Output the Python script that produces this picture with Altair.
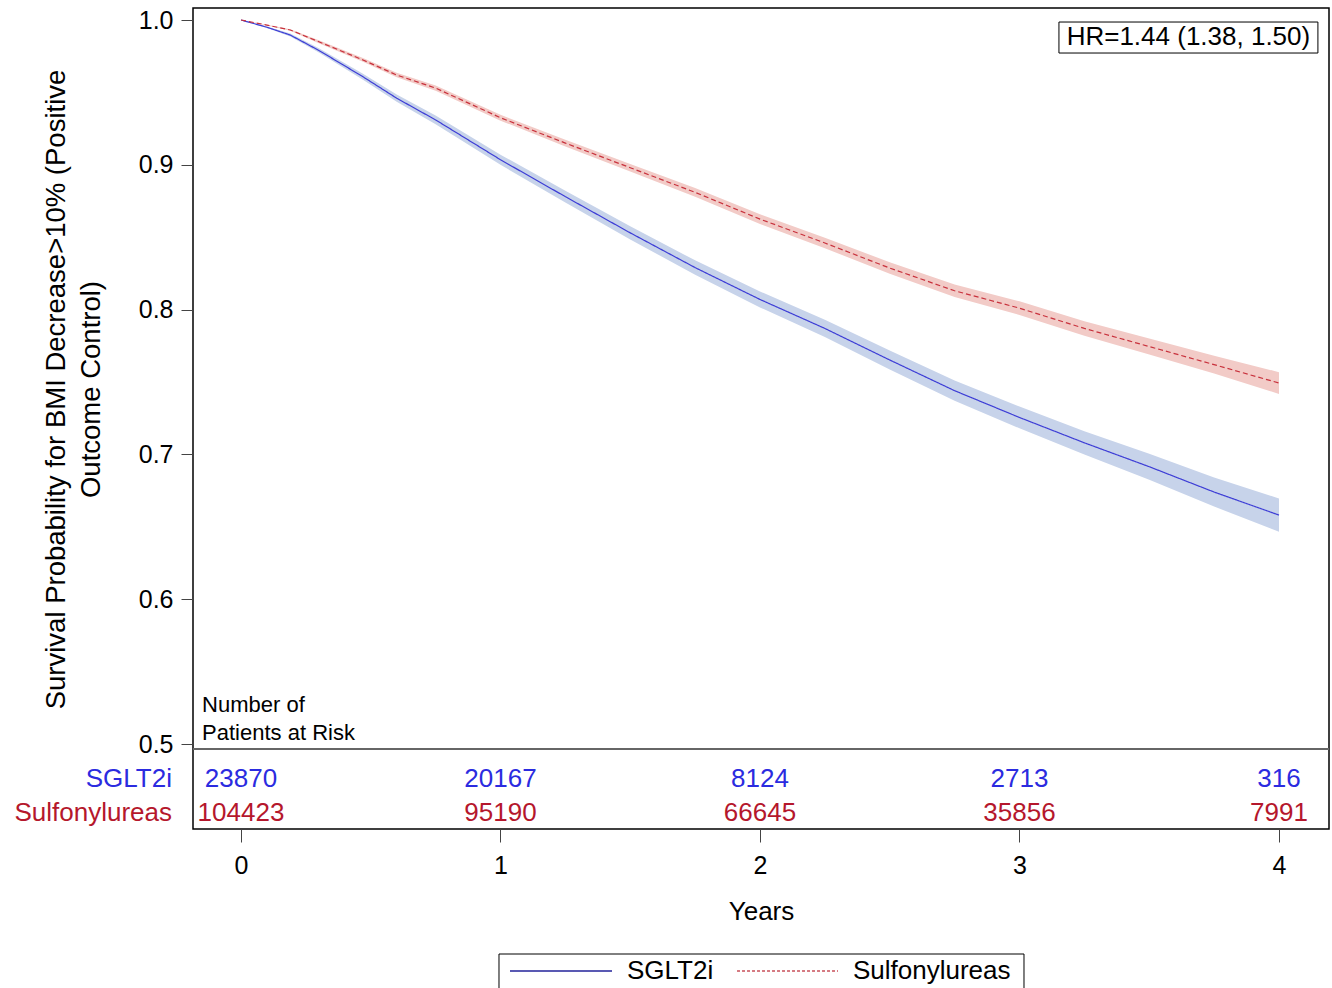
import altair as alt
import pandas as pd

# ---- data ----
times = [0, 0.1, 0.19, 0.3, 0.47, 0.6, 0.75, 1.0, 1.25, 1.5, 1.75, 2.0,
         2.25, 2.5, 2.75, 3.0, 3.25, 3.5, 3.75, 4.0]
sglt2_surv = [1.0, 0.995, 0.9896, 0.979, 0.9608, 0.946, 0.931, 0.9035, 0.878,
              0.853, 0.829, 0.807, 0.787, 0.7652, 0.744, 0.7255, 0.708,
              0.6915, 0.674, 0.6581]
sglt2_hw = [0, 0.0005, 0.001, 0.0015, 0.002, 0.0025, 0.003, 0.0035, 0.004,
            0.0045, 0.005, 0.0055, 0.006, 0.0065, 0.007, 0.0075, 0.008,
            0.009, 0.010, 0.0115]
su_surv = [1.0, 0.9965, 0.9931, 0.985, 0.9724, 0.962, 0.953, 0.9325, 0.915,
           0.898, 0.881, 0.8625, 0.846, 0.8287, 0.813, 0.801, 0.787, 0.7745,
           0.762, 0.7493]
su_hw = [0, 0.0003, 0.0006, 0.001, 0.0013, 0.0015, 0.0018, 0.002, 0.0023,
         0.0026, 0.003, 0.0033, 0.0036, 0.004, 0.0043, 0.0047, 0.005,
         0.0055, 0.0062, 0.0075]

groups = ["SGLT2i", "Sulfonylureas"]
risk_times = [0, 1, 2, 3, 4]
risk_sglt2 = [23870, 20167, 8124, 2713, 316]
risk_su = [104423, 95190, 66645, 35856, 7991]
y_ticks = [0.5, 0.6, 0.7, 0.8, 0.9, 1.0]
x_ticks = [0, 1, 2, 3, 4]
hr_text = "HR=1.44 (1.38, 1.50)"

BLUE_LINE = "#3d3dd6"
BLUE_BAND = "#c7d3ea"
RED_LINE = "#c8313c"
RED_BAND = "#f2cbc7"
BLUE_TXT = "#2b2be0"
RED_TXT = "#b5172c"
LEG_BLUE = "#22229a"
LEG_RED = "#c8505a"
FONT = "Liberation Sans"

rows = []
for t, s, h in zip(times, sglt2_surv, sglt2_hw):
    rows.append({"t": t, "s": s, "lo": s - h, "hi": s + h, "group": groups[0]})
for t, s, h in zip(times, su_surv, su_hw):
    rows.append({"t": t, "s": s, "lo": s - h, "hi": s + h, "group": groups[1]})
df = pd.DataFrame(rows)

X_DOM = [-0.18497, 4.1927]
Y_DOM = [0.4413, 1.00829]
xs = alt.Scale(domain=X_DOM, nice=False, zero=False)
ys = alt.Scale(domain=Y_DOM, nice=False, zero=False)

base = alt.Chart(df)

band_b = base.transform_filter(alt.datum.group == groups[0]).mark_area(
    color=BLUE_BAND, opacity=1).encode(
    x=alt.X("t:Q", scale=xs), y=alt.Y("lo:Q", scale=ys), y2="hi:Q")
band_r = base.transform_filter(alt.datum.group == groups[1]).mark_area(
    color=RED_BAND, opacity=1).encode(
    x=alt.X("t:Q", scale=xs), y=alt.Y("lo:Q", scale=ys), y2="hi:Q")

lines = base.mark_line(strokeWidth=1.2).encode(
    x=alt.X("t:Q", scale=xs,
            axis=alt.Axis(values=x_ticks, title="Years", domain=False,
                          grid=False, tickSize=13, tickColor="#444",
                          labelFontSize=25, titleFontSize=26,
                          labelFont=FONT, titleFont=FONT,
                          labelColor="#000", titleColor="#000",
                          titleFontWeight="normal", labelPadding=11,
                          titlePadding=20, format="d")),
    y=alt.Y("s:Q", scale=ys,
            axis=alt.Axis(values=y_ticks, domain=False, grid=False,
                          title=["Survival Probability for BMI Decrease>10% (Positive",
                                 "Outcome Control)"],
                          tickSize=12, tickColor="#444", labelFontSize=25,
                          titleFontSize=27.5, labelFont=FONT, titleFont=FONT,
                          labelColor="#000", titleColor="#000",
                          titleFontWeight="normal", labelPadding=8,
                          format=".1f", titleLineHeight=35,
                          titleX=-123, titleY=381, titleBaseline="bottom",
                          titleAlign="center", titleAngle=270)),
    color=alt.Color("group:N", scale=alt.Scale(domain=groups,
                                               range=[BLUE_LINE, RED_LINE]),
                    legend=None),
    strokeDash=alt.StrokeDash("group:N", scale=alt.Scale(
        domain=groups, range=[[1, 0], [5, 3]]), legend=None),
)

# at-risk table
risk_rows = []
for t, n in zip(risk_times, risk_sglt2):
    risk_rows.append({"t": t, "n": str(n), "row": groups[0]})
for t, n in zip(risk_times, risk_su):
    risk_rows.append({"t": t, "n": str(n), "row": groups[1]})
rdf = pd.DataFrame(risk_rows)
row_y = {groups[0]: 0.4758, groups[1]: 0.4523}
rdf["y"] = rdf["row"].map(row_y)

risk_text = alt.Chart(rdf).mark_text(fontSize=26, font=FONT, align="center",
                                     baseline="middle").encode(
    x=alt.X("t:Q", scale=xs), y=alt.Y("y:Q", scale=ys), text="n:N",
    color=alt.Color("row:N", scale=alt.Scale(domain=groups,
                                             range=[BLUE_TXT, RED_TXT]),
                    legend=None))

lab_df = pd.DataFrame({"row": groups, "y": [row_y[g] for g in groups],
                       "x": [-0.266, -0.266]})
row_labels = alt.Chart(lab_df).mark_text(fontSize=26, font=FONT, align="right",
                                         baseline="middle").encode(
    x=alt.X("x:Q", scale=xs), y=alt.Y("y:Q", scale=ys), text="row:N",
    color=alt.Color("row:N", scale=alt.Scale(domain=groups,
                                             range=[BLUE_TXT, RED_TXT]),
                    legend=None))

nar_df = pd.DataFrame({"x": [-0.150, -0.150], "y": [0.5269, 0.5076],
                       "txt": ["Number of", "Patients at Risk"]})
nar = alt.Chart(nar_df).mark_text(fontSize=22, font=FONT, align="left",
                                  baseline="middle", color="#000").encode(
    x=alt.X("x:Q", scale=xs), y=alt.Y("y:Q", scale=ys), text="txt:N")

sep = alt.Chart(pd.DataFrame({"y": [0.4965]})).mark_rule(
    color="#666", strokeWidth=2).encode(y=alt.Y("y:Q", scale=ys))

hr_box_df = pd.DataFrame({"x": [3.152], "x2": [4.150], "y": [0.9772],
                          "y2": [0.9986], "xc": [3.651], "yc": [0.98826],
                          "txt": [hr_text]})
hr_box = alt.Chart(hr_box_df).mark_rect(fill="#fff", stroke="#000",
                                        strokeWidth=1).encode(
    x=alt.X("x:Q", scale=xs), x2="x2:Q", y=alt.Y("y:Q", scale=ys), y2="y2:Q")
hr_txt = alt.Chart(hr_box_df).mark_text(fontSize=26, font=FONT,
                                        align="center", baseline="middle",
                                        color="#000").encode(
    x=alt.X("xc:Q", scale=xs), y=alt.Y("yc:Q", scale=ys), text="txt:N")

# legend (drawn below the plot, outside the data area)
leg_box_df = pd.DataFrame({"x": [0.9942], "x2": [3.0173], "y": [0.3301],
                           "y2": [0.35497]})
leg_box = alt.Chart(leg_box_df).mark_rect(fill="#fff", stroke="#000",
                                          strokeWidth=1, clip=False).encode(
    x=alt.X("x:Q", scale=xs), x2="x2:Q", y=alt.Y("y:Q", scale=ys), y2="y2:Q")
leg_lines_df = pd.DataFrame({"x": [1.0366, 1.9114], "x2": [1.4297, 2.3006],
                             "y": [0.34323, 0.34323], "group": groups})
leg_lines = alt.Chart(leg_lines_df).mark_rule(strokeWidth=1.3,
                                              clip=False).encode(
    x=alt.X("x:Q", scale=xs), x2="x2:Q", y=alt.Y("y:Q", scale=ys),
    color=alt.Color("group:N", scale=alt.Scale(domain=groups,
                                               range=[LEG_BLUE, LEG_RED]),
                    legend=None),
    strokeDash=alt.StrokeDash("group:N", scale=alt.Scale(
        domain=groups, range=[[1, 0], [3, 2]]), legend=None))
leg_txt_df = pd.DataFrame({"x": [1.4875, 2.3584], "y": [0.34323, 0.34323],
                           "txt": groups})
leg_txt = alt.Chart(leg_txt_df).mark_text(fontSize=26, font=FONT,
                                          align="left", baseline="middle",
                                          color="#000", clip=False).encode(
    x=alt.X("x:Q", scale=xs), y=alt.Y("y:Q", scale=ys), text="txt:N")

chart = alt.layer(
    band_b, band_r, lines, sep, risk_text, row_labels, nar, hr_box, hr_txt,
    leg_box, leg_lines, leg_txt
).resolve_scale(color="independent", strokeDash="independent").properties(
    width=1136, height=821,
    autosize=alt.AutoSizeParams(type="none"),
    padding={"left": 193, "top": 8, "right": 3, "bottom": 159},
    background="#fff",
).configure_view(stroke="#000", strokeWidth=1.5)

chart.save("out.html", embed_options={"renderer": "svg", "actions": False})
